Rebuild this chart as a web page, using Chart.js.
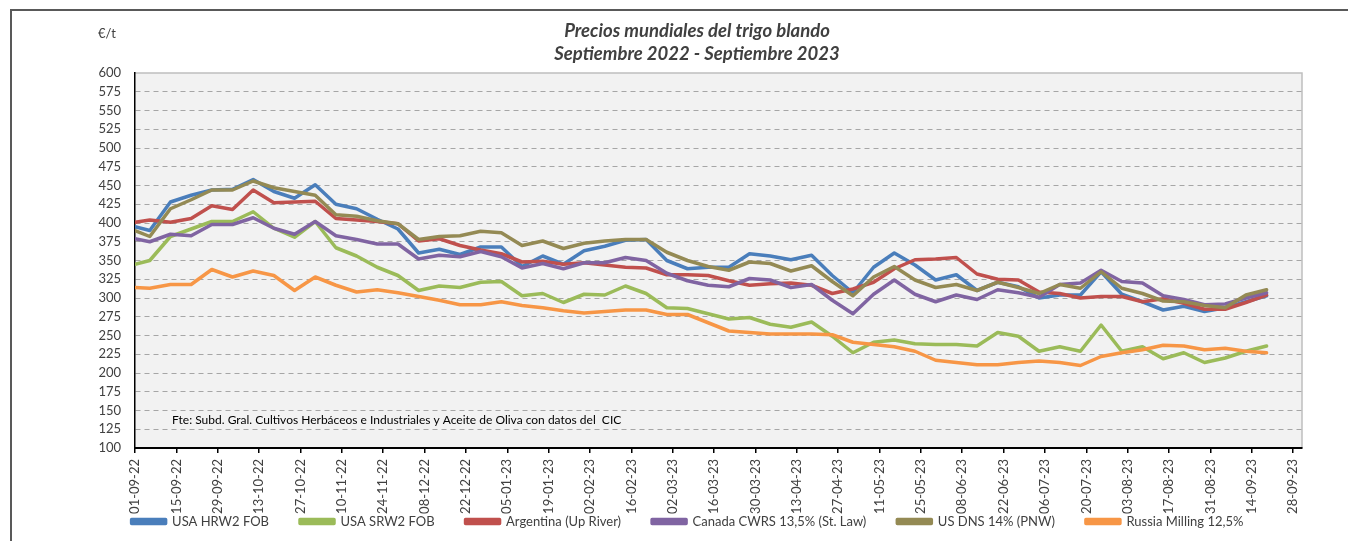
<!DOCTYPE html>
<html>
<head>
<meta charset="utf-8">
<script src="https://cdn.jsdelivr.net/npm/chart.js@4.4.0/dist/chart.umd.min.js"></script>
<style>
  body { margin: 0; background: #fff; overflow: hidden; }
  #wrap { position: relative; width: 1348px; height: 541px; }
  #frame { position: absolute; left: 10px; top: 9px; width: 1400px; height: 600px; border: 2px solid #595959; }
  #wrap canvas { position: absolute; left: 0; top: 0; }
</style>
</head>
<body>
<div id="wrap">
  <div id="frame"></div>
  <canvas id="chart" width="1348" height="541"></canvas>
</div>
<script>
// weekly quotation dates
const dates = [
    "2022-09-01", "2022-09-06", "2022-09-13", "2022-09-20", "2022-09-27",
    "2022-10-04", "2022-10-11", "2022-10-18", "2022-10-25",
    "2022-11-01", "2022-11-08", "2022-11-15", "2022-11-22", "2022-11-29",
    "2022-12-06", "2022-12-13", "2022-12-20", "2022-12-27",
    "2023-01-03", "2023-01-10", "2023-01-17", "2023-01-24", "2023-01-31",
    "2023-02-07", "2023-02-14", "2023-02-21", "2023-02-28",
    "2023-03-07", "2023-03-14", "2023-03-21", "2023-03-28",
    "2023-04-04", "2023-04-11", "2023-04-18", "2023-04-25",
    "2023-05-02", "2023-05-09", "2023-05-16", "2023-05-23", "2023-05-30",
    "2023-06-06", "2023-06-13", "2023-06-20", "2023-06-27",
    "2023-07-04", "2023-07-11", "2023-07-18", "2023-07-25",
    "2023-08-01", "2023-08-08", "2023-08-15", "2023-08-22", "2023-08-29",
    "2023-09-05", "2023-09-12", "2023-09-19"
];

const usaHrw2 = [
    395, 390, 428, 437, 444, 445, 458, 442, 433, 451, 425, 419, 405, 392,
    360, 365, 358, 368, 368, 342, 356, 345, 363, 369, 377, 378, 350, 339,
    341, 341, 359, 356, 351, 357, 330, 307, 341, 360, 344, 324, 331, 310,
    321, 315, 300, 304, 304, 335, 305, 295, 284, 289, 282, 287, 295, 303
];
const usaSrw2 = [
    345, 350, 382, 392, 402, 402, 415, 393, 381, 402, 367, 356, 341, 330,
    310, 316, 314, 321, 322, 303, 306, 294, 305, 304, 316, 306, 287, 286,
    279, 272, 274, 265, 261, 268, 249, 227, 241, 244, 239, 238, 238, 236,
    254, 249, 229, 235, 229, 264, 229, 235, 219, 227, 214, 220, 229, 236
];
const argentina = [
    401, 404, 401, 406, 423, 418, 444, 427, 428, 429, 406, 404, 402, 399,
    376, 379, 370, 364, 359, 348, 349, 345, 347, 344, 341, 340, 331, 331,
    330, 323, 317, 319, 320, 317, 306, 312, 321, 339, 351, 352, 354, 332,
    325, 324, 308, 306, 300, 302, 302, 295, 299, 293, 285, 285, 294, 304
];
const canadaCwrs = [
    379, 375, 385, 383, 398, 398, 407, 393, 385, 402, 383, 378, 372, 372,
    352, 357, 355, 362, 355, 340, 346, 339, 347, 347, 354, 350, 333, 323,
    317, 315, 326, 324, 314, 318, 297, 279, 305, 324, 305, 295, 304, 298,
    311, 307, 301, 318, 320, 337, 322, 320, 303, 298, 291, 292, 300, 307
];
const usDns = [
    390, 382, 419, 431, 444, 444, 456, 447, 442, 437, 411, 409, 403, 399,
    378, 382, 383, 389, 387, 370, 376, 366, 373, 376, 378, 378, 361, 350,
    342, 337, 348, 346, 336, 343, 322, 303, 328, 342, 324, 314, 318, 310,
    321, 314, 306, 318, 313, 335, 313, 306, 296, 295, 290, 287, 304, 311
];
const russia = [
    314, 313, 318, 318, 338, 328, 336, 330, 310, 328, 317, 308, 311, 307,
    302, 297, 291, 291, 295, 290, 287, 283, 280, 282, 284, 284, 278, 278,
    267, 256, 254, 252, 252, 252, 251, 241, 238, 235, 229, 217, 214, 211,
    211, 214, 216, 214, 210, 222, 227, 231, 237, 236, 231, 233, 229, 227
];

const tickLabels = [
    "01-09-22", "15-09-22", "29-09-22", "13-10-22", "27-10-22", "10-11-22",
    "24-11-22", "08-12-22", "22-12-22", "05-01-23", "19-01-23", "02-02-23",
    "16-02-23", "02-03-23", "16-03-23", "30-03-23", "13-04-23", "27-04-23",
    "11-05-23", "25-05-23", "08-06-23", "22-06-23", "06-07-23", "20-07-23",
    "03-08-23", "17-08-23", "31-08-23", "14-09-23", "28-09-23"
];

const seriesNames = [
    "USA HRW2 FOB", "USA SRW2 FOB", "Argentina (Up River)",
    "Canada CWRS 13,5% (St. Law)", "US DNS 14% (PNW)", "Russia Milling 12,5%"
];
const seriesColors = ["#4a7ebb", "#9bbb59", "#c0504d", "#8064a2", "#948a54", "#f79646"];

// days since 01-09-22, used as the x value
const START = Date.UTC(2022, 8, 1);
const dayOfIso = s => {
    const [y, m, d] = s.split("-").map(Number);
    return (Date.UTC(y, m - 1, d) - START) / 86400000;
};
const dayOfLabel = s => {
    const [d, m, y] = s.split("-").map(Number);
    return (Date.UTC(2000 + y, m - 1, d) - START) / 86400000;
};
const xDays = dates.map(dayOfIso);
const tickDays = tickLabels.map(dayOfLabel);

const allSeries = [usaHrw2, usaSrw2, argentina, canadaCwrs, usDns, russia];

const chartDecor = {
    id: "chartDecor",
    afterLayout(chart) {
        // let the rotated date labels run into the legend band without being clipped
        chart.scales.x.bottom = chart.height;
    },
    beforeDraw(chart) {
        const { ctx, chartArea: a } = chart;
        ctx.save();
        ctx.fillStyle = "#f2f2f2";
        ctx.fillRect(a.left, a.top, a.right - a.left, a.bottom - a.top);
        ctx.strokeStyle = "#bfbfbf";
        ctx.lineWidth = 1.5;
        ctx.beginPath();
        ctx.moveTo(a.left, a.top);
        ctx.lineTo(a.right, a.top);
        ctx.lineTo(a.right, a.bottom);
        ctx.stroke();
        ctx.restore();
    },
    afterDraw(chart) {
        const ctx = chart.ctx;
        ctx.save();
        ctx.fillStyle = "#404040";
        ctx.textBaseline = "middle";
        ctx.textAlign = "center";
        ctx.font = "italic bold 18.5px Lato";
        ctx.fillText("Precios mundiales del trigo blando", 697, 31);
        ctx.fillText("Septiembre 2022 - Septiembre 2023", 697, 54);
        ctx.textAlign = "left";
        ctx.font = "13px Lato";
        ctx.fillText("€/t", 98, 34);
        ctx.fillStyle = "#000";
        ctx.font = "12px Lato";
        ctx.fillText("Fte: Subd. Gral. Cultivos Herbáceos e Industriales y Aceite de Oliva con datos del  CIC", 172, 420);
        ctx.restore();
    }
};

new Chart(document.getElementById("chart"), {
    type: "line",
    data: {
        datasets: allSeries.map((vals, i) => ({
            label: seriesNames[i],
            data: vals.map((v, j) => ({ x: xDays[j], y: v })),
            borderColor: seriesColors[i],
            backgroundColor: seriesColors[i],
            borderWidth: 3.5,
            pointRadius: 0,
            tension: 0,
            borderJoinStyle: "round",
            borderCapStyle: "round",
            order: allSeries.length - i,
        })),
    },
    options: {
        responsive: false,
        animation: false,
        devicePixelRatio: 1,
        layout: { padding: { left: 73, right: 46, top: 73, bottom: 3 } },
        plugins: {
            title: { display: false },
            tooltip: { enabled: false },
            legend: {
                position: "bottom",
                labels: {
                    boxWidth: 34,
                    boxHeight: 4,
                    padding: 31,
                    color: "#404040",
                    font: { family: "Lato", size: 13 },
                    sort: (a, b) => a.datasetIndex - b.datasetIndex,
                },
            },
        },
        scales: {
            x: {
                type: "linear",
                min: 0,
                max: 395,
                afterBuildTicks: scale => {
                    scale.ticks = tickDays.map(v => ({ value: v }));
                },
                afterFit: scale => { scale.height = 36; },
                ticks: {
                    autoSkip: false,
                    minRotation: 90,
                    maxRotation: 90,
                    padding: 6,
                    color: "#404040",
                    font: { family: "Lato", size: 13 },
                    callback: (v, i) => tickLabels[i],
                },
                grid: { drawOnChartArea: false, drawTicks: true, tickLength: 5, color: "#000", lineWidth: 1.5 },
                border: { color: "#000", width: 2 },
            },
            y: {
                min: 100,
                max: 600,
                afterFit: scale => { scale.width = 62; },
                ticks: {
                    stepSize: 25,
                    padding: 14,
                    color: "#404040",
                    font: { family: "Lato", size: 13 },
                },
                grid: {
                    drawTicks: false,
                    lineWidth: 1,
                    color: c => (c.tick && (c.tick.value === 600 || c.tick.value === 100)) ? "rgba(0,0,0,0)" : "#a6a6a6",
                },
                border: { color: "#000", width: 1.5, dash: [5, 4] },
            },
        },
    },
    plugins: [chartDecor],
});
</script>
</body>
</html>
